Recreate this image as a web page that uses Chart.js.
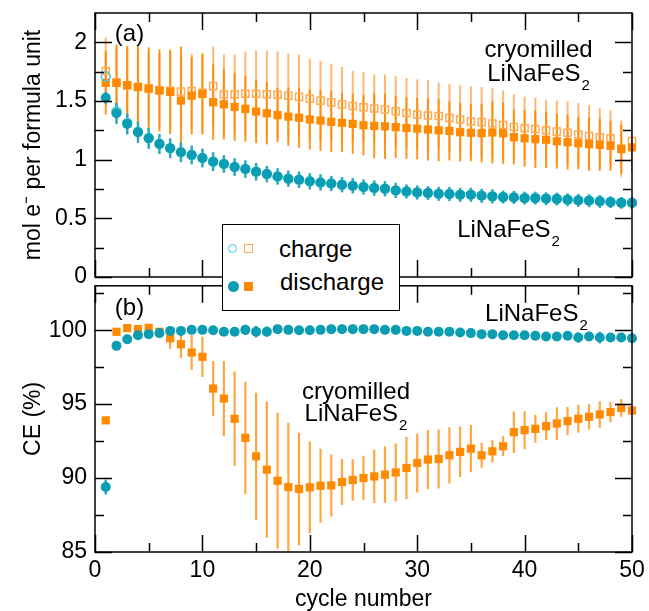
<!DOCTYPE html>
<html>
<head>
<meta charset="utf-8">
<script src="https://cdn.jsdelivr.net/npm/chart.js@4.4.1/dist/chart.umd.min.js"></script>
<style>
  html, body { margin: 0; padding: 0; background: #fff; overflow: hidden; }
  #wrap { position: relative; width: 649px; height: 611px; overflow: hidden; }
  #capCanvas { position: absolute; left: 0; top: 0; }
  #ceCanvas { position: absolute; left: 0; top: 280px; }
  .legend {
    position: absolute; left: 222px; top: 224px; width: 178px; height: 87px;
    box-sizing: border-box; border: 1.5px solid #000; background: #fff;
    font: 24px 'Liberation Sans', Arial, sans-serif; color: #000;
  }
  .legend .mk { position: absolute; box-sizing: border-box; }
  .legend .txt { position: absolute; line-height: 24px; white-space: nowrap; }
</style>
</head>
<body>
<div id="wrap">
  <canvas id="capCanvas" width="649" height="292"></canvas>
  <canvas id="ceCanvas" width="649" height="345"></canvas>
  <div class="legend">
    <span class="mk" style="left:5px;top:19px;width:9px;height:9px;border:1.5px solid #3cc8e6;border-radius:50%"></span>
    <span class="mk" style="left:21px;top:19px;width:9px;height:9px;border:1.5px solid #ffaa55"></span>
    <span class="txt" style="left:56px;top:12px">charge</span>
    <span class="mk" style="left:5px;top:56px;width:11px;height:11px;background:#0b9db2;border-radius:50%"></span>
    <span class="mk" style="left:21px;top:57px;width:9px;height:9px;background:#ff8a00"></span>
    <span class="txt" style="left:57px;top:45px">discharge</span>
  </div>
</div>
<script>
const FONT = "'Liberation Sans', Arial, sans-serif";

// cycle number, shared by both panels
const cycles = [1, 2, 3, 4, 5, 6, 7, 8, 9, 10, 11, 12, 13, 14, 15, 16, 17, 18, 19, 20,
  21, 22, 23, 24, 25, 26, 27, 28, 29, 30, 31, 32, 33, 34, 35, 36, 37, 38, 39, 40,
  41, 42, 43, 44, 45, 46, 47, 48, 49, 50];

// (a) mol e- per formula unit, cryomilled LiNaFeS2
const capChargeMilled = [1.755, 1.657, 1.633, 1.62, 1.605, 1.592, 1.586, 1.58, 1.584, 1.57,
  1.627, 1.556, 1.556, 1.562, 1.562, 1.558, 1.553, 1.545, 1.535, 1.52,
  1.503, 1.488, 1.47, 1.458, 1.446, 1.436, 1.427, 1.412, 1.397, 1.384,
  1.376, 1.372, 1.355, 1.343, 1.326, 1.32, 1.308, 1.295, 1.278, 1.268,
  1.262, 1.25, 1.239, 1.229, 1.214, 1.202, 1.19, 1.182, 1.095, 1.158];
const capDischargeMilled = [1.655, 1.655, 1.635, 1.62, 1.607, 1.59, 1.578, 1.504, 1.545, 1.56,
  1.49, 1.472, 1.45, 1.433, 1.41, 1.395, 1.38, 1.367, 1.357, 1.343,
  1.334, 1.323, 1.314, 1.305, 1.293, 1.288, 1.284, 1.277, 1.27, 1.264,
  1.257, 1.25, 1.245, 1.234, 1.229, 1.226, 1.232, 1.225, 1.192, 1.182,
  1.175, 1.17, 1.157, 1.149, 1.14, 1.132, 1.126, 1.118, 1.09, 1.104];
const errChargeMilled = [0.285, 0.3, 0.315, 0.31, 0.31, 0.32, 0.33, 0.32, 0.32, 0.33,
  0.34, 0.34, 0.34, 0.36, 0.37, 0.37, 0.37, 0.36, 0.36, 0.34,
  0.34, 0.33, 0.32, 0.3, 0.3, 0.29, 0.3, 0.3, 0.3, 0.3,
  0.3, 0.285, 0.29, 0.29, 0.3, 0.3, 0.3, 0.295, 0.28, 0.27,
  0.265, 0.26, 0.265, 0.265, 0.27, 0.265, 0.25, 0.24, 0.24, 0.24];
const errDischargeMilled = [0.27, 0.325, 0.335, 0.35, 0.35, 0.35, 0.36, 0.46, 0.33, 0.345,
  0.32, 0.3, 0.29, 0.28, 0.27, 0.265, 0.23, 0.25, 0.255, 0.257,
  0.26, 0.26, 0.25, 0.255, 0.256, 0.276, 0.277, 0.263, 0.262, 0.262,
  0.265, 0.264, 0.251, 0.248, 0.242, 0.25, 0.265, 0.263, 0.233, 0.242,
  0.246, 0.241, 0.233, 0.233, 0.222, 0.228, 0.222, 0.214, 0.208, 0.21];

// (a) mol e- per formula unit, LiNaFeS2
const capChargeBulk = [1.71, 1.41, 1.313, 1.237, 1.185, 1.136, 1.098, 1.064, 1.04, 1.014,
  0.983, 0.964, 0.938, 0.92, 0.898, 0.878, 0.857, 0.838, 0.829, 0.815,
  0.806, 0.797, 0.786, 0.778, 0.767, 0.758, 0.752, 0.738, 0.729, 0.72,
  0.716, 0.71, 0.708, 0.702, 0.702, 0.694, 0.688, 0.682, 0.68, 0.674,
  0.674, 0.67, 0.667, 0.66, 0.655, 0.653, 0.647, 0.641, 0.635, 0.634];
const capDischargeBulk = [1.527, 1.395, 1.305, 1.233, 1.182, 1.134, 1.097, 1.063, 1.04, 1.014,
  0.983, 0.963, 0.937, 0.92, 0.897, 0.877, 0.857, 0.838, 0.829, 0.815,
  0.806, 0.797, 0.786, 0.778, 0.767, 0.758, 0.752, 0.738, 0.729, 0.72,
  0.715, 0.709, 0.707, 0.701, 0.701, 0.692, 0.687, 0.681, 0.678, 0.672,
  0.672, 0.667, 0.664, 0.658, 0.652, 0.65, 0.644, 0.638, 0.632, 0.63];
const errBulk = [0.05, 0.09, 0.09, 0.09, 0.09, 0.085, 0.085, 0.085, 0.08, 0.08,
  0.08, 0.075, 0.075, 0.075, 0.075, 0.07, 0.07, 0.07, 0.07, 0.07,
  0.07, 0.065, 0.065, 0.065, 0.065, 0.065, 0.065, 0.065, 0.06, 0.06,
  0.06, 0.06, 0.06, 0.06, 0.06, 0.06, 0.06, 0.055, 0.055, 0.055,
  0.055, 0.055, 0.055, 0.055, 0.055, 0.055, 0.055, 0.05, 0.05, 0.05];

// (b) coulombic efficiency, %
const ceMilled = [93.9, 99.89, 100.14, 100.07, 100.16, 99.89, 99.45, 99.05, 98.49, 98.2,
  96.05, 95.37, 94.01, 92.72, 91.47, 90.57, 89.82, 89.39, 89.26, 89.37,
  89.48, 89.5, 89.73, 89.87, 90.0, 90.11, 90.23, 90.38, 90.68, 91.02,
  91.25, 91.29, 91.54, 91.77, 91.99, 91.54, 91.81, 92.15, 93.1, 93.24,
  93.33, 93.51, 93.69, 93.85, 94.01, 94.14, 94.3, 94.46, 94.75, 94.57];
const errCeMilled = [0.15, 0.2, 0.1, 0.1, 0.1, 0.1, 0.73, 0.93, 1.19, 1.36,
  1.87, 2.55, 3.2, 3.8, 4.3, 4.6, 4.6, 4.35, 3.8, 3.1,
  2.5, 2.1, 1.56, 1.4, 1.5, 1.8, 1.9, 1.95, 2.1, 2.0,
  2.0, 2.0, 1.9, 1.7, 1.6, 0.85, 0.75, 0.68, 1.4, 1.3,
  0.95, 0.95, 1.1, 0.95, 0.95, 0.85, 0.9, 0.68, 0.6, 0.3];
const ceBulk = [89.39, 98.94, 99.39, 99.66, 99.73, 99.8, 99.95, 99.95, 100.02, 100.02,
  100.0, 99.89, 99.89, 100.02, 99.9, 99.9, 100.07, 100.02, 100.0, 100.0,
  100.02, 100.07, 100.07, 100.07, 100.07, 100.07, 100.02, 100.02, 99.95, 99.95,
  99.89, 99.89, 99.9, 99.84, 99.8, 99.73, 99.73, 99.66, 99.66, 99.66,
  99.62, 99.57, 99.57, 99.62, 99.5, 99.57, 99.5, 99.5, 99.5, 99.45];
const errCeBulk = [0.5, 0.15, 0.15, 0.15, 0.15, 0.15, 0.15, 0.15, 0.15, 0.15,
  0.2, 0.2, 0.2, 0.35, 0.4, 0.35, 0.2, 0.2, 0.2, 0.3,
  0.3, 0.3, 0.3, 0.3, 0.3, 0.2, 0.3, 0.3, 0.3, 0.2,
  0.2, 0.2, 0.2, 0.2, 0.2, 0.2, 0.2, 0.2, 0.2, 0.2,
  0.2, 0.2, 0.2, 0.2, 0.35, 0.3, 0.4, 0.3, 0.3, 0.3];

// axis ticks
const capTicks = [0, 0.5, 1, 1.5, 2];
const capMinor = [0.25, 0.75, 1.25, 1.75];
const ceTicks = [85, 90, 95, 100];
const ceMinor = [87.5, 92.5, 97.5, 102.5];
const cycleTicks = [0, 10, 20, 30, 40, 50];
const cycleMinor = [5, 15, 25, 35, 45];

const TEAL = '#0b9db2';
const CYAN = '#3cc8e6';
const ORANGE = '#ff8a00';
const PALE = '#ffaa55';

const pts = ys => cycles.map((c, i) => ({ x: c, y: ys[i] }));

// vertical error bars, drawn under the markers
const errorBars = {
  id: 'errorBars',
  beforeDatasetsDraw(chart) {
    const { ctx, chartArea: a, scales: { y } } = chart;
    ctx.save();
    ctx.beginPath();
    ctx.rect(a.left, a.top, a.right - a.left, a.bottom - a.top);
    ctx.clip();
    chart.data.datasets.forEach((ds, di) => {
      if (!ds.errors) return;
      const meta = chart.getDatasetMeta(di);
      ctx.strokeStyle = ds.errorColor;
      ctx.lineWidth = ds.errorWidth;
      meta.data.forEach((pt, i) => {
        const v = ds.data[i].y, e = ds.errors[i];
        ctx.beginPath();
        ctx.moveTo(pt.x, y.getPixelForValue(v - e));
        ctx.lineTo(pt.x, y.getPixelForValue(v + e));
        ctx.stroke();
      });
    });
    ctx.restore();
  }
};

// box around the plot with inward ticks on all four sides
const frame = {
  id: 'frame',
  afterDraw(chart, args, opts) {
    const { ctx, chartArea: a, scales: { x, y } } = chart;
    ctx.save();
    ctx.strokeStyle = '#000';
    ctx.lineWidth = 1.5;
    ctx.beginPath();
    const xt = (vals, len) => vals.forEach(v => {
      const px = Math.round(x.getPixelForValue(v)) + 0.5;
      ctx.moveTo(px, a.bottom); ctx.lineTo(px, a.bottom - len);
      ctx.moveTo(px, a.top); ctx.lineTo(px, a.top + len);
    });
    const yt = (vals, len) => vals.forEach(v => {
      const py = Math.round(y.getPixelForValue(v)) + 0.5;
      ctx.moveTo(a.left, py); ctx.lineTo(a.left + len, py);
      ctx.moveTo(a.right, py); ctx.lineTo(a.right - len, py);
    });
    xt(opts.xMajor, 17); xt(opts.xMinor, 9);
    yt(opts.yMajor, 17); yt(opts.yMinor, 9);
    ctx.stroke();
    ctx.strokeRect(a.left, a.top, a.right - a.left, a.bottom - a.top);
    ctx.restore();
  }
};

// panel labels, with an optional subscript
const notes = {
  id: 'notes',
  afterDatasetsDraw(chart, args, opts) {
    const { ctx, scales: { x, y } } = chart;
    ctx.save();
    ctx.fillStyle = '#000';
    ctx.textBaseline = 'alphabetic';
    ctx.textAlign = 'left';
    opts.items.forEach(n => {
      ctx.font = `${opts.size}px ${FONT}`;
      const w1 = ctx.measureText(n.text).width;
      ctx.font = `${opts.subSize}px ${FONT}`;
      const w2 = n.sub ? ctx.measureText(n.sub).width + 1 : 0;
      let px = x.getPixelForValue(n.x);
      if (n.align === 'center') px -= (w1 + w2) / 2;
      const py = y.getPixelForValue(n.y);
      ctx.font = `${opts.size}px ${FONT}`;
      ctx.fillText(n.text, px, py);
      if (n.sub) {
        ctx.font = `${opts.subSize}px ${FONT}`;
        ctx.fillText(n.sub, px + w1 + 1, py + opts.subDrop);
      }
    });
    ctx.restore();
  }
};

const tickFont = { family: FONT, size: 23 };

function yAxis(min, max, ticks, title, titlePad) {
  return {
    type: 'linear', min, max,
    afterBuildTicks: s => { s.ticks = ticks.map(v => ({ value: v })); },
    afterFit: s => { s.width = 95; s.paddingTop = 0; s.paddingBottom = 0; },
    grid: { display: false, drawTicks: false },
    border: { display: false },
    ticks: { font: tickFont, color: '#000', padding: 8, callback: v => String(v) },
    title: { display: true, text: title, font: tickFont, color: '#000', padding: { top: titlePad, bottom: 0 } }
  };
}

function series(label, ys, opts) {
  return Object.assign({
    label, data: pts(ys), showLine: false, clip: false,
    pointBorderWidth: 0
  }, opts);
}

Chart.defaults.font.family = FONT;

// (a) charge / discharge capacity
new Chart(document.getElementById('capCanvas'), {
  type: 'scatter',
  data: {
    datasets: [
      series('cryomilled charge', capChargeMilled, {
        order: 3, pointStyle: 'rect', pointRadius: 5,
        pointBackgroundColor: 'rgba(255,255,255,0)', pointBorderColor: PALE, pointBorderWidth: 1.5,
        errors: errChargeMilled, errorColor: 'rgba(255,165,80,0.8)', errorWidth: 2
      }),
      series('cryomilled discharge', capDischargeMilled, {
        order: 2, pointStyle: 'rect', pointRadius: 5.8,
        pointBackgroundColor: ORANGE,
        errors: errDischargeMilled, errorColor: 'rgba(255,138,0,0.9)', errorWidth: 2
      }),
      series('charge', capChargeBulk, {
        order: 1, pointStyle: 'circle', pointRadius: 4.5,
        pointBackgroundColor: 'rgba(255,255,255,0)', pointBorderColor: CYAN, pointBorderWidth: 1.5
      }),
      series('discharge', capDischargeBulk, {
        order: 0, pointStyle: 'circle', pointRadius: 5,
        pointBackgroundColor: TEAL,
        errors: errBulk, errorColor: '#2aa8bb', errorWidth: 2.5
      })
    ]
  },
  options: {
    responsive: false, animation: false, events: [],
    layout: { padding: { top: 13, bottom: 15, left: 0, right: 17 } },
    scales: {
      x: { type: 'linear', min: 0, max: 50, display: false },
      y: yAxis(0, 2.25, capTicks, 'mol e\u207B per formula unit', 20)
    },
    plugins: {
      legend: { display: false },
      tooltip: { enabled: false },
      frame: { xMajor: cycleTicks, xMinor: cycleMinor, yMajor: capTicks, yMinor: capMinor },
      notes: {
        size: 24, subSize: 15, subDrop: 9,
        items: [
          { text: '(a)', x: 1.85, y: 2.01, align: 'left' },
          { text: 'cryomilled', x: 41.3, y: 1.875, align: 'center' },
          { text: 'LiNaFeS', sub: '2', x: 41.3, y: 1.67, align: 'center' },
          { text: 'LiNaFeS', sub: '2', x: 38.5, y: 0.342, align: 'center' }
        ]
      }
    }
  },
  plugins: [errorBars, frame, notes]
});

// (b) coulombic efficiency
new Chart(document.getElementById('ceCanvas'), {
  type: 'scatter',
  data: {
    datasets: [
      series('cryomilled CE', ceMilled, {
        order: 1, pointStyle: 'rect', pointRadius: 5.8,
        pointBackgroundColor: ORANGE,
        errors: errCeMilled, errorColor: 'rgba(255,150,30,0.85)', errorWidth: 2.2
      }),
      series('CE', ceBulk, {
        order: 0, pointStyle: 'circle', pointRadius: 5,
        pointBackgroundColor: TEAL,
        errors: errCeBulk, errorColor: '#2aa8bb', errorWidth: 2.5
      })
    ]
  },
  options: {
    responsive: false, animation: false, events: [],
    layout: { padding: { top: 5, bottom: 0, left: 0, right: 17 } },
    scales: {
      x: {
        type: 'linear', min: 0, max: 50,
        afterBuildTicks: s => { s.ticks = cycleTicks.map(v => ({ value: v })); },
        afterFit: s => { s.height = 73; s.paddingLeft = 0; s.paddingRight = 0; },
        grid: { display: false, drawTicks: false },
        border: { display: false },
        ticks: { font: tickFont, color: '#000', padding: 5, maxRotation: 0, callback: v => String(v) },
        title: { display: true, text: 'cycle number', font: tickFont, color: '#000', padding: { top: 0, bottom: 12 } }
      },
      y: yAxis(85, 103, ceTicks, 'CE (%)', 20)
    },
    plugins: {
      legend: { display: false },
      tooltip: { enabled: false },
      frame: { xMajor: cycleTicks, xMinor: cycleMinor, yMajor: ceTicks, yMinor: ceMinor },
      notes: {
        size: 24, subSize: 15, subDrop: 9,
        items: [
          { text: '(b)', x: 1.85, y: 101.02, align: 'left' },
          { text: 'LiNaFeS', sub: '2', x: 41.1, y: 100.63, align: 'center' },
          { text: 'cryomilled', x: 24.3, y: 95.32, align: 'center' },
          { text: 'LiNaFeS', sub: '2', x: 24.3, y: 93.86, align: 'center' }
        ]
      }
    }
  },
  plugins: [errorBars, frame, notes]
});
</script>
</body>
</html>
